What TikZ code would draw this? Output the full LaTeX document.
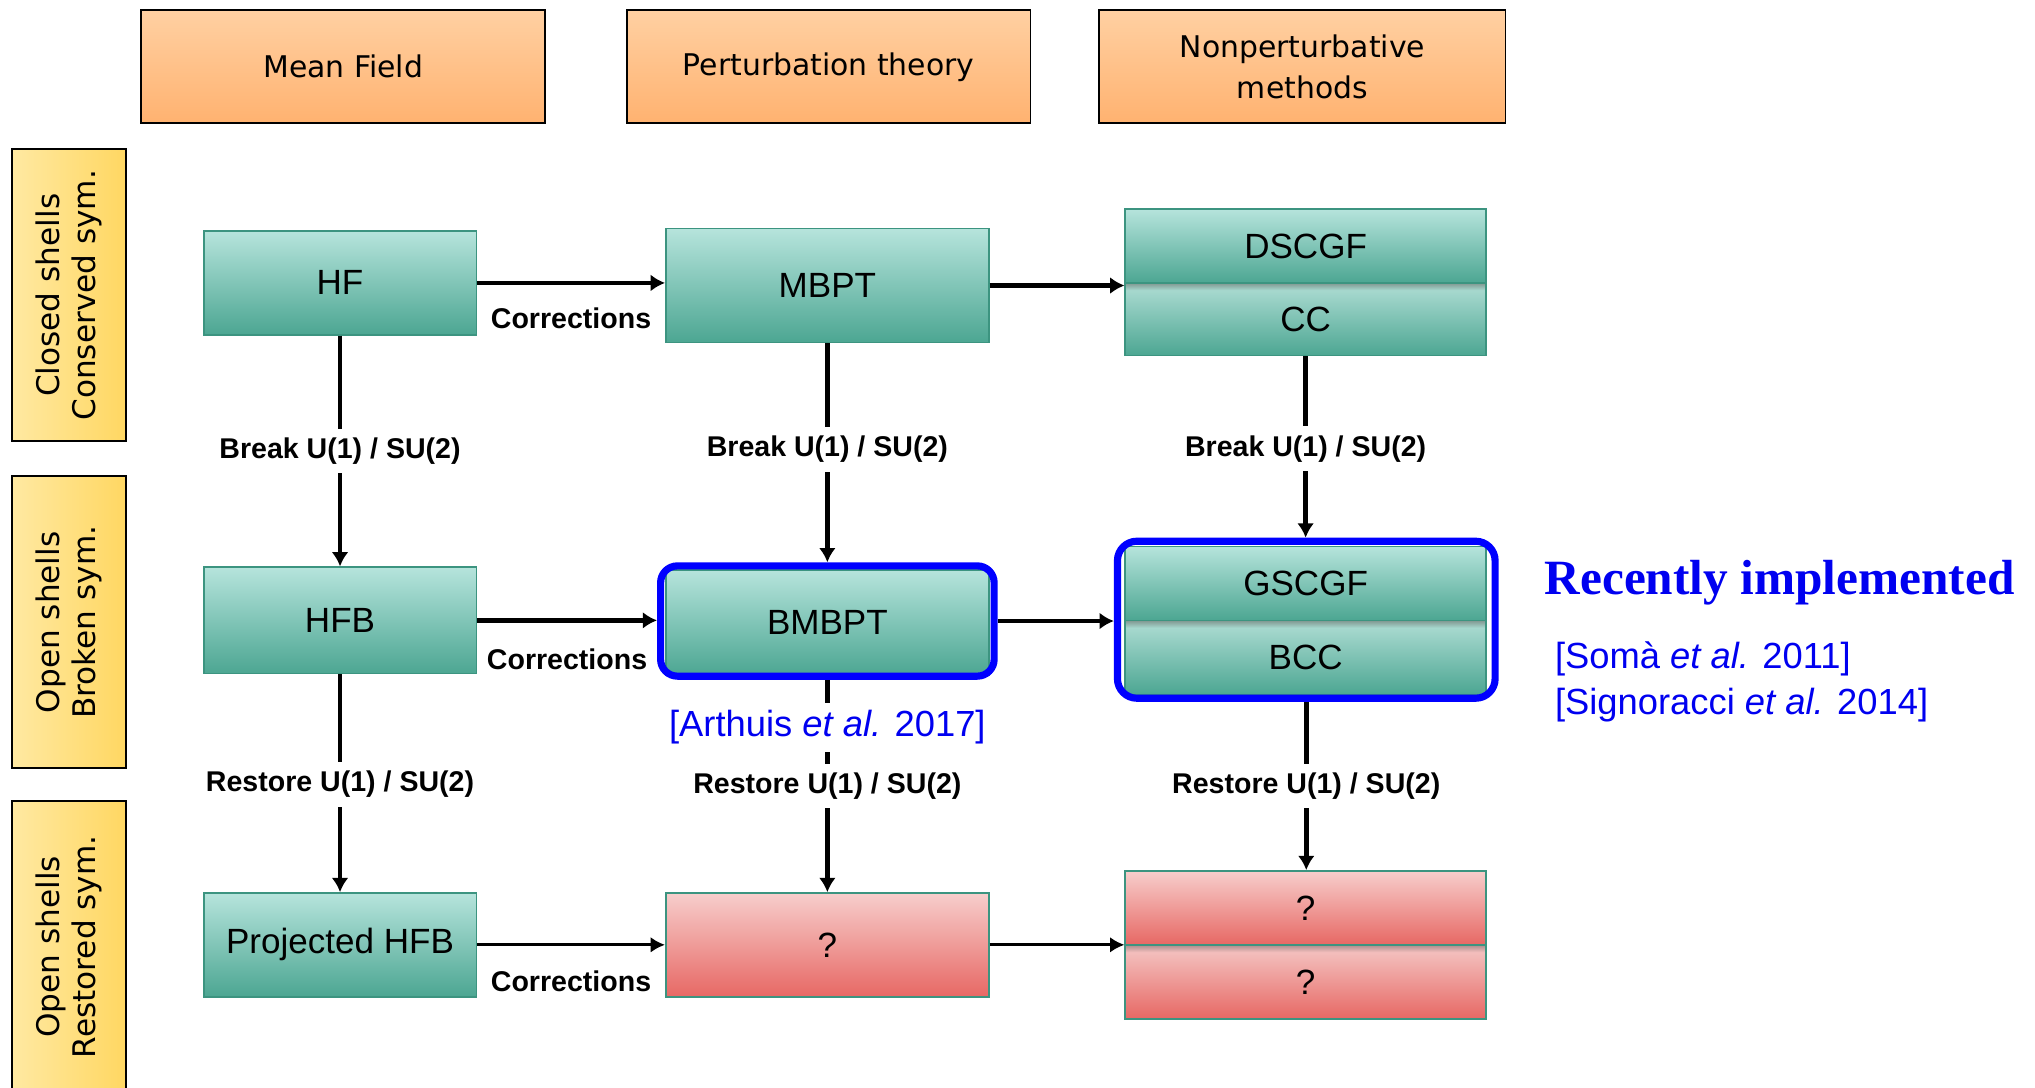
\documentclass[tikz,border=0pt]{standalone}
\usepackage{fontspec}
\setmainfont{Liberation Serif}
\newfontfamily\hdrfont{DejaVu Sans}
\newfontfamily\boxfont{Liberation Sans}
\usetikzlibrary{arrows.meta}

\definecolor{hdrtop}{RGB}{255,208,162}
\definecolor{hdrbot}{RGB}{255,178,112}
\definecolor{ylwA}{RGB}{255,233,162}
\definecolor{ylwB}{RGB}{255,215,98}
\definecolor{glight}{RGB}{182,228,220}
\definecolor{glightB}{RGB}{166,216,206}
\definecolor{gdark}{RGB}{76,166,146}
\definecolor{gshade}{RGB}{128,150,144}
\definecolor{gborder}{RGB}{60,148,128}
\definecolor{rlight}{RGB}{247,206,204}
\definecolor{rlightB}{RGB}{243,190,188}
\definecolor{rdark}{RGB}{231,104,100}
\definecolor{rshade}{RGB}{170,140,140}
\definecolor{hiblue}{RGB}{0,0,255}
\definecolor{refblue}{RGB}{0,0,240}

% lower halves of the stacked boxes: a soft shadow under the dividing line
\pgfdeclareverticalshading{greenlower}{100bp}{color(0bp)=(gdark); color(25bp)=(gdark); color(70bp)=(glightB); color(75bp)=(gshade); color(100bp)=(gshade)}
\pgfdeclareverticalshading{redlower}{100bp}{color(0bp)=(rdark); color(25bp)=(rdark); color(70bp)=(rlightB); color(75bp)=(rshade); color(100bp)=(rshade)}

\tikzset{
  header/.style={draw=black, line width=1.5pt, top color=hdrtop, bottom color=hdrbot,
    align=center, font={\hdrfont\fontsize{23}{31}\selectfont}},
  rowbox/.style={draw=black, line width=1.5pt, left color=ylwA, right color=ylwB},
  rowtext/.style={rotate=90, align=center, font={\hdrfont\fontsize{24}{28}\selectfont}},
  gbox/.style={draw=gborder, line width=1.2pt, top color=glight, bottom color=gdark,
    inner sep=0pt, font={\boxfont\fontsize{27}{30}\selectfont}},
  glower/.style={draw=gborder, line width=1.2pt, shade, shading=greenlower,
    inner sep=0pt, font={\boxfont\fontsize{27}{30}\selectfont}},
  rbox/.style={draw=gborder, line width=1.2pt, top color=rlight, bottom color=rdark,
    inner sep=0pt, font={\boxfont\fontsize{27}{30}\selectfont}},
  rlower/.style={draw=gborder, line width=1.2pt, shade, shading=redlower,
    inner sep=0pt, font={\boxfont\fontsize{27}{30}\selectfont}},
  hilite/.style={draw=hiblue, line width=5.5pt, rounded corners=13pt, inner sep=0pt},
  conn/.style={line width=3.5pt, -{Latex[length=11pt,width=13pt]}},
  thinconn/.style={line width=2.5pt, -{Latex[length=11pt,width=12pt]}},
  lab/.style={fill=white, inner xsep=2pt, inner ysep=7pt,
    font={\boxfont\bfseries\fontsize{22}{24}\selectfont}},
  corr/.style={inner sep=0pt, font={\boxfont\bfseries\fontsize{22}{24}\selectfont}},
  ref/.style={text=refblue, font={\boxfont\fontsize{28}{34}\selectfont}},
}

\begin{document}
\begin{tikzpicture}[x=1pt,y=-1pt]
\useasboundingbox (0,0) rectangle (1568,838);
\fill[white] (0,0) rectangle (1568,838);

% column headers
\node[header, minimum width=311, minimum height=87] (mf) at (264.5,51.5) {Mean Field};
\node[header, minimum width=311, minimum height=87] (pt) at (638.5,51.5) {Perturbation theory};
\node[header, minimum width=313, minimum height=87] (np) at (1003.5,51.5) {Nonperturbative\\methods};

% row labels
\node[rowbox, minimum width=88, minimum height=225] (r1) at (53,227.5) {};
\node[rowtext] (r1t) at (r1.center) {Closed shells\\Conserved sym.};
\node[rowbox, minimum width=88, minimum height=225] (r2) at (53,479.5) {};
\node[rowtext] (r2t) at (r2.center) {Open shells\\Broken sym.};
\node[rowbox, minimum width=88, minimum height=225] (r3) at (53,729.5) {};
\node[rowtext] (r3t) at (r3.center) {Open shells\\Restored sym.};

% first row
\node[gbox, minimum width=210, minimum height=80] (hf) at (262,218) {HF};
\node[gbox, minimum width=249, minimum height=88] (mbpt) at (637.5,220) {MBPT};
\node[gbox, minimum width=278, minimum height=57] (dscgf) at (1006,189.5) {DSCGF};
\node[glower, minimum width=278, minimum height=56] (cc) at (1006,246) {CC};

% second row
\node[gbox, minimum width=210, minimum height=82] (hfb) at (262,478) {HFB};
\node[gbox, minimum width=249, minimum height=81] (bmbpt) at (637.5,479.5) {BMBPT};
\node[hilite, minimum width=257, minimum height=85] (bmbptframe) at (637.5,478.5) {};
\node[gbox, minimum width=278, minimum height=57] (gscgf) at (1006,449.5) {GSCGF};
\node[glower, minimum width=278, minimum height=57] (bcc) at (1006,506.5) {BCC};
\node[hilite, rounded corners=15pt, minimum width=291, minimum height=121] (gscgfframe) at (1006.5,477.5) {};

% third row
\node[gbox, minimum width=210, minimum height=80] (phfb) at (262,728) {Projected HFB};
\node[rbox, minimum width=249, minimum height=80] (q1) at (637.5,728) {?};
\node[rbox, minimum width=278, minimum height=57] (q2) at (1006,699.5) {?};
\node[rlower, minimum width=278, minimum height=57] (q3) at (1006,756.5) {?};

% corrections
\draw[conn] (hf.east) -- node[corr, yshift=-27pt] (c1) {Corrections} (hf.east -| mbpt.west);
\draw[conn] (mbpt.east) -- (mbpt.east -| dscgf.west);
\draw[conn] (hfb.east) -- node[corr, yshift=-30pt] (c2) {Corrections} (hfb.east -| bmbptframe.west);
\draw[conn] (bmbptframe.east) -- (bmbptframe.east -| gscgfframe.west);
\draw[thinconn] (phfb.east) -- node[corr, yshift=-28pt] (c3) {Corrections} (phfb.east -| q1.west);
\draw[thinconn] (q1.east) -- (q1.east -| q2.west);

% breaking the symmetries
\draw[conn] (hf.south) -- node[lab, pos=0.5] (b1) {Break U(1) / SU(2)} (hfb.north);
\draw[conn] (mbpt.south) -- node[lab, pos=0.485] (b2) {Break U(1) / SU(2)} (mbpt.south |- bmbptframe.north);
\draw[conn] (cc.south) -- node[lab, pos=0.51] (b3) {Break U(1) / SU(2)} (cc.south |- gscgfframe.north);

% restoring the symmetries
\draw[conn] (hfb.south) -- node[lab, pos=0.505] (s1) {Restore U(1) / SU(2)} (phfb.north);
\draw[conn] (bmbptframe.south) --
  node[ref, fill=white, inner ysep=6pt, inner xsep=2pt, pos=0.225] (arthuis) {[Arthuis \textit{et al.} 2017]}
  node[lab, pos=0.5] (s2) {Restore U(1) / SU(2)} (bmbptframe.south |- q1.north);
\draw[conn] (gscgfframe.south) -- node[lab, pos=0.5] (s3) {Restore U(1) / SU(2)} (gscgfframe.south |- q2.north);

% recent work
\node[anchor=west, text=refblue, inner sep=0pt, font={\bfseries\fontsize{38}{40}\selectfont}] (recent) at (1190,449) {Recently implemented};
\node[ref, anchor=west, inner sep=0pt] (soma) at (1198,508) {[Somà \textit{et al.} 2011]};
\node[ref, anchor=west, inner sep=0pt] (signo) at (1198,543) {[Signoracci \textit{et al.} 2014]};
\end{tikzpicture}
\end{document}
